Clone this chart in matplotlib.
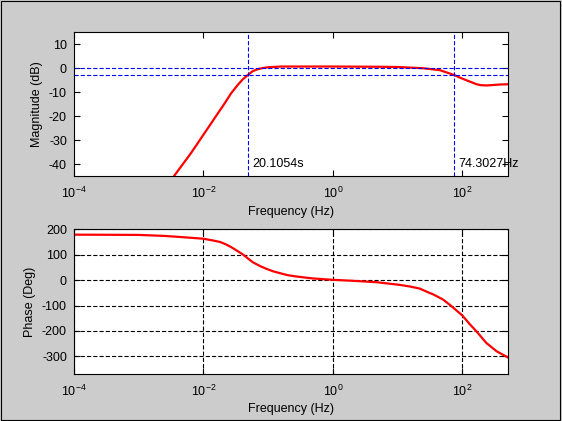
import numpy as np
import matplotlib
matplotlib.use("Agg")
import matplotlib.pyplot as plt
from matplotlib.patches import Rectangle

plt.rcParams['font.family'] = ['Liberation Sans', 'DejaVu Sans']
plt.rcParams['mathtext.fontset'] = 'custom'
plt.rcParams['mathtext.rm'] = 'Liberation Sans'
plt.rcParams['mathtext.it'] = 'Liberation Sans'
plt.rcParams['axes.unicode_minus'] = False
plt.rcParams['lines.scale_dashes'] = False

# magnitude curve (log10 of Hz, dB)
mag_logf = [-2.55, -2.45, -2.19, -1.93, -1.67, -1.57, -1.47, -1.39, -1.31, -1.24,
            -1.16, -1.08, -1.0, -0.8, 0.0, 0.72, 1.0, 1.39, 1.65, 1.75, 1.87,
            1.96, 2.06, 2.22, 2.29, 2.38, 2.58, 2.71]
mag_db = [-48.8, -44.9, -35.4, -25.0, -14.6, -10.4, -7.0, -4.6, -2.8, -1.25,
          -0.4, 0.1, 0.4, 0.7, 0.7, 0.6, 0.5, 0.0, -0.8, -1.7, -2.8,
          -3.9, -5.0, -6.7, -7.1, -7.2, -6.8, -6.7]

# phase curve (log10 of Hz, degrees)
ph_logf = [-4.0, -3.0, -2.6, -2.37, -2.0, -1.85, -1.74, -1.65, -1.55, -1.47,
           -1.39, -1.31, -1.24, -1.13, -1.03, -0.93, -0.82, -0.70, -0.57, -0.31,
           0.0, 0.31, 0.67, 1.03, 1.19, 1.34, 1.49, 1.55, 1.70, 1.83,
           2.0, 2.11, 2.22, 2.37, 2.53, 2.71]
ph_deg = [179, 178, 174, 170, 163, 156, 150, 140.5, 127, 114,
          101, 85, 71, 56, 45, 35.4, 27.6, 19.7, 14.6, 6.7,
          1.3, -2.6, -8, -18.5, -25, -33, -50, -56, -76, -102,
          -139, -172, -202, -247, -280, -305]

f_low = 1 / 20.1054
f_high = 74.3027
mag_ticks = [10, 0, -10, -20, -30, -40]
ph_ticks = [200, 100, 0, -100, -200, -300]
x_ticks = [1e-4, 1e-2, 1e0, 1e2]

fig = plt.figure(figsize=(5.62, 4.21), dpi=100, facecolor='#cccccc')
fig.patches.append(Rectangle((0.5/562, 1.5/421), 559/562, 419/421, transform=fig.transFigure,
                             fill=False, edgecolor='black', linewidth=0.8))

ax1 = fig.add_axes([0.1315, 0.582, 0.773, 0.3413])
ax2 = fig.add_axes([0.1315, 0.1124, 0.773, 0.3429])

for ax in (ax1, ax2):
    ax.set_xscale('log')
    ax.set_xlim(1e-4, 10**2.71)
    ax.set_xticks(x_ticks)
    ax.minorticks_off()
    ax.tick_params(direction='in', top=True, right=True, length=4, width=0.8,
                   labelsize=9, pad=5)
    ax.tick_params(axis='x', pad=7)
    for s in ax.spines.values():
        s.set_linewidth(0.8)
    ax.set_xlabel('Frequency (Hz)', fontsize=9, labelpad=3.5)

ax1.plot(10.0 ** np.array(mag_logf), mag_db, color='red', linewidth=1.6)
ax1.set_ylim(-45, 15)
ax1.set_yticks(mag_ticks)
ax1.set_ylabel('Magnitude (dB)', fontsize=9)
for yv in (0, -3):
    ax1.axhline(yv, color='blue', linewidth=0.8, dashes=(3, 1.5))
for xv in (f_low, f_high):
    ax1.axvline(xv, color='blue', linewidth=0.8, dashes=(3, 1.5))
ax1.annotate('20.1054s', (f_low, -40), xytext=(3, 0), textcoords='offset points',
             ha='left', va='center', fontsize=9)
ax1.annotate('74.3027Hz', (f_high, -40), xytext=(3, 0), textcoords='offset points',
             ha='left', va='center', fontsize=9, annotation_clip=False)

ax2.plot(10.0 ** np.array(ph_logf), ph_deg, color='red', linewidth=1.6)
ax2.set_ylim(-368, 200)
ax2.set_yticks(ph_ticks)
ax2.set_ylabel('Phase (Deg)', fontsize=9)
ax2.grid(True, color='black', linewidth=0.8, dashes=(3, 1.5))

fig.savefig('out.png', dpi=100, facecolor=fig.get_facecolor())
